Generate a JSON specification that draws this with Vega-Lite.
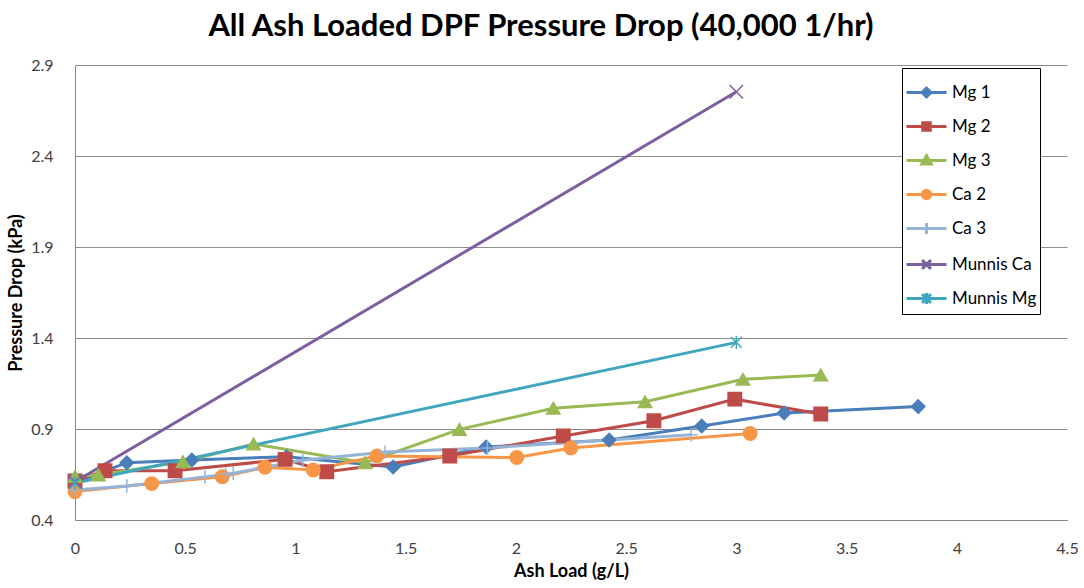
{
  "$schema": "https://vega.github.io/schema/vega-lite/v6.json",
  "width": 992,
  "height": 455,
  "autosize": {"type": "none"},
  "padding": {"left": 75, "top": 65, "right": 17, "bottom": 68},
  "background": "white",
  "title": {"text": "All Ash Loaded DPF Pressure Drop (40,000 1/hr)", "font": "Lato", "fontSize": 31, "fontWeight": "bold", "color": "#000000", "anchor": "middle", "baseline": "bottom", "offset": 20, "dy": 37, "dx": -30},
  "config": {"view": {"stroke": null}, "font": "Lato"},
  "data": {"values": [
    {"series": "Mg 1", "x": 0, "y": 0.605},
    {"series": "Mg 1", "x": 0.235, "y": 0.715},
    {"series": "Mg 1", "x": 0.53, "y": 0.73},
    {"series": "Mg 1", "x": 0.96, "y": 0.748},
    {"series": "Mg 1", "x": 1.443, "y": 0.691},
    {"series": "Mg 1", "x": 1.865, "y": 0.801},
    {"series": "Mg 1", "x": 2.423, "y": 0.84},
    {"series": "Mg 1", "x": 2.843, "y": 0.916},
    {"series": "Mg 1", "x": 3.217, "y": 0.988},
    {"series": "Mg 1", "x": 3.825, "y": 1.023},
    {"series": "Mg 2", "x": 0, "y": 0.615},
    {"series": "Mg 2", "x": 0.136, "y": 0.671},
    {"series": "Mg 2", "x": 0.454, "y": 0.671},
    {"series": "Mg 2", "x": 0.953, "y": 0.733},
    {"series": "Mg 2", "x": 1.142, "y": 0.665},
    {"series": "Mg 2", "x": 1.7, "y": 0.752},
    {"series": "Mg 2", "x": 2.215, "y": 0.862},
    {"series": "Mg 2", "x": 2.626, "y": 0.945},
    {"series": "Mg 2", "x": 2.993, "y": 1.064},
    {"series": "Mg 2", "x": 3.383, "y": 0.982},
    {"series": "Mg 3", "x": 0, "y": 0.64},
    {"series": "Mg 3", "x": 0.106, "y": 0.647},
    {"series": "Mg 3", "x": 0.49, "y": 0.72},
    {"series": "Mg 3", "x": 0.81, "y": 0.818},
    {"series": "Mg 3", "x": 1.316, "y": 0.715},
    {"series": "Mg 3", "x": 1.744, "y": 0.898},
    {"series": "Mg 3", "x": 2.17, "y": 1.014},
    {"series": "Mg 3", "x": 2.586, "y": 1.05},
    {"series": "Mg 3", "x": 3.03, "y": 1.173},
    {"series": "Mg 3", "x": 3.383, "y": 1.197},
    {"series": "Ca 2", "x": 0, "y": 0.556},
    {"series": "Ca 2", "x": 0.348, "y": 0.6},
    {"series": "Ca 2", "x": 0.668, "y": 0.638},
    {"series": "Ca 2", "x": 0.862, "y": 0.69},
    {"series": "Ca 2", "x": 1.081, "y": 0.675},
    {"series": "Ca 2", "x": 1.369, "y": 0.752},
    {"series": "Ca 2", "x": 2.004, "y": 0.743},
    {"series": "Ca 2", "x": 2.249, "y": 0.796},
    {"series": "Ca 2", "x": 3.063, "y": 0.875},
    {"series": "Ca 3", "x": 0, "y": 0.565},
    {"series": "Ca 3", "x": 0.235, "y": 0.587},
    {"series": "Ca 3", "x": 0.59, "y": 0.637},
    {"series": "Ca 3", "x": 0.684, "y": 0.652},
    {"series": "Ca 3", "x": 0.718, "y": 0.657},
    {"series": "Ca 3", "x": 1.033, "y": 0.728},
    {"series": "Ca 3", "x": 1.407, "y": 0.773},
    {"series": "Ca 3", "x": 1.871, "y": 0.796},
    {"series": "Ca 3", "x": 2.795, "y": 0.868},
    {"series": "Munnis Ca", "x": 0, "y": 0.61},
    {"series": "Munnis Ca", "x": 3.0, "y": 2.753},
    {"series": "Munnis Mg", "x": 0, "y": 0.603},
    {"series": "Munnis Mg", "x": 3.0, "y": 1.376}
  ]},
  "encoding": {
    "x": {"field": "x", "type": "quantitative",
      "scale": {"domain": [0, 4.5], "nice": false, "zero": false},
      "axis": {"values": [0, 0.5, 1, 1.5, 2, 2.5, 3, 3.5, 4, 4.5], "format": "~g", "grid": false, "ticks": false,
        "domainColor": "#868686", "domainWidth": 1, "labelFont": "Lato", "labelFontSize": 16, "labelColor": "#404040",
        "labelPadding": 20, "labelFlush": false, "labelOverlap": false,
        "title": "Ash Load (g/L)", "titleFont": "Lato", "titleFontSize": 18, "titleFontWeight": "bold", "titleColor": "#000000", "titlePadding": 6}},
    "y": {"field": "y", "type": "quantitative",
      "scale": {"domain": [0.4, 2.9], "nice": false, "zero": false},
      "axis": {"values": [0.4, 0.9, 1.4, 1.9, 2.4, 2.9], "format": ".1f", "grid": true, "gridColor": "#8c8c8c", "gridWidth": 1, "ticks": false,
        "domainColor": "#868686", "domainWidth": 1, "labelFont": "Lato", "labelFontSize": 16, "labelColor": "#404040",
        "labelPadding": 22, "labelFlush": false, "labelOverlap": false,
        "title": "Pressure Drop (kPa)", "titleFont": "Lato", "titleFontSize": 18, "titleFontWeight": "bold", "titleColor": "#000000", "titlePadding": 5}}
  },
  "layer": [
    {
      "mark": {"type": "line", "strokeWidth": 3},
      "encoding": {
        "color": {"field": "series", "type": "nominal",
          "scale": {"domain": ["Mg 1", "Mg 2", "Mg 3", "Ca 2", "Ca 3", "Munnis Ca", "Munnis Mg"],
            "range": ["#4A7EBB", "#BE4B48", "#98B954", "#F79646", "#95B3D7", "#7D5FA0", "#3FA6BF"]},
          "legend": null}
      }
    },
    {
      "mark": {"type": "point", "filled": true, "opacity": 1, "size": 180, "strokeWidth": 1.5},
      "encoding": {
        "color": {"field": "series", "type": "nominal",
          "scale": {"domain": ["Mg 1", "Mg 2", "Mg 3", "Ca 2", "Ca 3", "Munnis Ca", "Munnis Mg"],
            "range": ["#4A7EBB", "#BE4B48", "#98B954", "#F79646", "#95B3D7", "#7D5FA0", "#3FA6BF"]},
          "legend": null},
        "stroke": {"field": "series", "type": "nominal",
          "scale": {"domain": ["Mg 1", "Mg 2", "Mg 3", "Ca 2", "Ca 3", "Munnis Ca", "Munnis Mg"],
            "range": ["#4A7EBB", "#BE4B48", "#98B954", "#F79646", "#95B3D7", "#7D5FA0", "#3FA6BF"]},
          "legend": null},
        "shape": {"field": "series", "type": "nominal",
          "scale": {"domain": ["Mg 1", "Mg 2", "Mg 3", "Ca 2", "Ca 3", "Munnis Ca", "Munnis Mg"],
            "range": ["diamond", "square", "triangle-up", "circle", "M0,-1V1M-1,0H1", "M-1,-1L1,1M-1,1L1,-1", "M0,-1V1M-0.8,-0.8L0.8,0.8M-0.8,0.8L0.8,-0.8"]},
          "legend": null}
      }
    },
    {
      "transform": [{"filter": "datum.x < -1"}],
      "mark": {"type": "point", "filled": true, "opacity": 1},
      "encoding": {
        "color": {"field": "series", "type": "nominal",
          "scale": {"domain": ["Mg 1", "Mg 2", "Mg 3", "Ca 2", "Ca 3", "Munnis Ca", "Munnis Mg"],
            "range": ["#4A7EBB", "#BE4B48", "#98B954", "#F79646", "#95B3D7", "#7D5FA0", "#3FA6BF"]},
          "legend": {"title": null, "orient": "none", "legendX": 827, "legendY": 3, "padding": 3, "strokeColor": "#000000", "fillColor": "#ffffff",
            "symbolSize": 1600, "symbolStrokeWidth": 3, "labelFont": "Lato", "labelFontSize": 17, "labelColor": "#000000", "labelOffset": 4, "rowPadding": 2, "symbolOpacity": 1}},
        "stroke": {"field": "series", "type": "nominal",
          "scale": {"domain": ["Mg 1", "Mg 2", "Mg 3", "Ca 2", "Ca 3", "Munnis Ca", "Munnis Mg"],
            "range": ["#4A7EBB", "#BE4B48", "#98B954", "#F79646", "#95B3D7", "#7D5FA0", "#3FA6BF"]},
          "legend": {"title": null, "orient": "none", "legendX": 827, "legendY": 3, "padding": 3, "strokeColor": "#000000", "fillColor": "#ffffff",
            "symbolSize": 1600, "symbolStrokeWidth": 3, "labelFont": "Lato", "labelFontSize": 17, "labelColor": "#000000", "labelOffset": 4, "rowPadding": 2, "symbolOpacity": 1}},
        "shape": {"field": "series", "type": "nominal",
          "scale": {"domain": ["Mg 1", "Mg 2", "Mg 3", "Ca 2", "Ca 3", "Munnis Ca", "Munnis Mg"],
            "range": [
              "M-1,0H1M0,-0.22L0.22,0L0,0.22L-0.22,0Z",
              "M-1,0H1M-0.19,-0.19H0.19V0.19H-0.19Z",
              "M-1,0H1M0,-0.24L0.24,0.18H-0.24Z",
              "M-1,0H1M0.21,0A0.21,0.21 0 1 1 -0.21,0A0.21,0.21 0 1 1 0.21,0Z",
              "M-1,0H1M0,-0.28V0.28",
              "M-1,0H1M-0.22,-0.22L0.22,0.22M-0.22,0.22L0.22,-0.22",
              "M-1,0H1M0,-0.28V0.28M-0.22,-0.22L0.22,0.22M-0.22,0.22L0.22,-0.22"
            ]},
          "legend": {"title": null, "orient": "none", "legendX": 827, "legendY": 3, "padding": 3, "strokeColor": "#000000", "fillColor": "#ffffff",
            "symbolSize": 1600, "symbolStrokeWidth": 3, "labelFont": "Lato", "labelFontSize": 17, "labelColor": "#000000", "labelOffset": 4, "rowPadding": 2, "symbolOpacity": 1}}
      }
    }
  ],
  "resolve": {"scale": {"color": "independent", "stroke": "independent", "shape": "independent"}}
}
